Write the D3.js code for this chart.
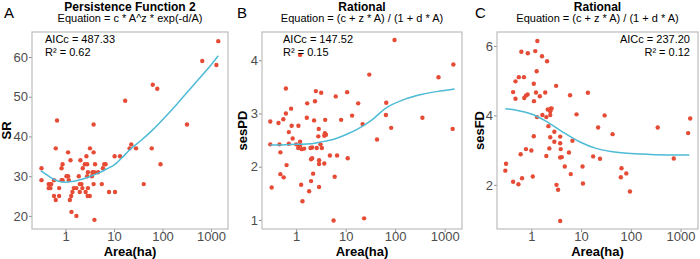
<!DOCTYPE html>
<html>
<head>
<meta charset="utf-8">
<script src="https://cdn.jsdelivr.net/npm/d3@7"></script>
<style>
  body { margin: 0; background: #fff; }
  text { font-family: "Liberation Sans", Arial, sans-serif; }
</style>
</head>
<body>
<div id="chart"></div>
<script>
const width = 700;
const height = 259;

// Panel A: species richness
const areaA = [0.32,0.32,0.45,0.48,0.51,0.45,0.49,0.58,0.63,0.74,0.74,0.63,0.67,0.83,0.87,0.83,0.87,
  1.05,1.13,1.13,1.17,1.27,1.23,1.31,1.39,1.48,1.68,1.33,1.68,1.88,1.97,2.13,1.97,2.03,2.23,2.27,2.5,
  2.6,2.7,2.8,2.8,2.9,2.9,2.86,3.16,3.2,3.5,3.6,3.8,3.8,3.8,3.9,3.95,4.07,4.7,5.6,5.9,6.3,6.7,7.9,
  10.5,10.3,13.3,17,21,22.7,28.5,41,60,63,78,91,320,660,1290,1410,0.58];
const srA = [32,29,28,28,28,27,27,25,24,25,27,37,44,29,29,32,33,
  30,30,36,29,34,24,25,26,27,27,21,20,30,28,28,26,34,27,32,33,
  26,35,33,30,31,27,25,25,37,30,31,36,43,28,31,19,33,31,28,32,33,33,26,
  26,35,35,49,37,38,37,28,37,53,52,33,43,59,58,64,29];
const fitAreaA = [0.31,0.45,0.6,0.8,1,1.5,2,3,5,7,10,15,21,37,62,100,200,500,1000,1410];
const fitSrA = [31.4,30.0,29.1,28.6,28.5,28.7,29.1,29.8,30.9,31.8,32.8,34.8,36.6,39.1,41.6,44.2,48.2,53.8,58.0,60.3];

// Panel B: sesPD
const areaB = [1.2,97,30,0.62,2.5,3.2,10.7,6.3,1.67,2.4,17.9,0.79,0.62,0.55,0.30,0.44,1.64,2.3,3.86,8.1,
  13.5,22,0.81,1.11,0.71,2.86,2.8,3.8,4.0,3.7,0.85,0.71,0.30,0.46,1.0,1.2,1.2,1.1,1.3,1.45,1.95,2.1,
  2.6,3.1,3.3,0.48,4.8,6.7,11,2.0,2.1,2.9,2.9,3.7,0.64,0.48,0.56,2.2,6.0,1.26,2.0,2.9,0.32,1.83,1.34,
  5.7,23.6,355,750,1500,1450,65,66,83,43];
const pdB = [4.10,4.38,3.73,3.47,3.42,3.39,3.40,3.32,3.19,3.23,3.19,3.09,3.00,2.89,2.85,2.82,2.92,2.87,2.88,2.88,
  2.96,2.80,2.77,2.77,2.65,2.71,2.57,2.63,2.60,2.58,2.53,2.43,2.42,2.42,2.42,2.47,2.40,2.35,2.33,2.34,2.35,2.36,
  2.35,2.42,2.35,2.27,2.21,2.21,2.16,2.14,2.16,2.12,2.05,2.06,2.03,1.86,1.80,1.87,1.81,1.66,1.73,1.62,1.61,1.54,1.35,
  0.99,1.03,2.92,3.68,3.92,2.71,2.97,3.20,2.73,2.51];
const fitAreaB = [0.3,0.5,1,2,3,5,10,17,32,65,150,355,800,1590];
const fitPdB = [2.41,2.41,2.42,2.43,2.46,2.50,2.60,2.70,2.86,3.10,3.26,3.36,3.42,3.46];

// Panel C: sesFD
const areaC = [1.32,0.63,0.85,1.2,1.64,2.07,1.28,0.71,0.56,0.48,1.12,3.15,0.43,0.84,0.78,0.72,1.24,1.9,1.48,
  1.13,0.48,6.0,13.7,2.14,2.45,2.55,2.4,2.4,1.67,2.0,1.3,8.1,29.7,2.2,22,2.9,1.12,2.4,3.8,6.7,2.9,3.8,
  0.78,1.0,2.3,3.9,0.61,5.7,2.0,3.8,4.1,17.5,24,0.31,0.30,4.7,10.7,6.2,0.65,1.07,0.43,0.55,10.9,3.2,
  3.45,3.8,347,1560,43,1420,730,65,81,63,96];
const fdC = [6.14,5.83,5.79,5.85,5.70,5.56,5.27,5.10,5.10,4.98,4.91,4.85,4.67,4.60,4.57,4.50,4.66,4.66,4.55,
  4.41,4.48,4.58,4.65,4.17,4.19,4.20,4.12,4.01,4.01,3.95,3.95,4.03,4.00,3.69,3.65,3.53,3.40,3.37,3.39,3.27,3.24,3.20,
  3.03,2.99,3.05,3.03,2.88,2.93,2.83,2.79,2.80,2.82,2.75,2.61,2.41,2.53,2.53,2.31,2.19,2.24,2.09,2.02,2.04,2.00,
  1.86,0.96,3.65,3.91,3.46,3.49,2.76,2.48,2.33,2.22,1.81];
const fitAreaC = [0.3,0.5,1,2,4,10,20,40,100,300,1000,1500];
const fitFdC = [4.19,4.15,4.04,3.83,3.55,3.22,3.05,2.96,2.90,2.87,2.86,2.86];

const xTicks = [1, 10, 100, 1000];

const panels = [
  { letter: "A", title: "Persistence Function 2", eq: "Equation = c * A^z * exp(-d/A)",
    aic: "AICc = 487.33", r2: "R\u00b2 = 0.62", ylab: "SR",
    xs: areaA, ys: srA, fx: fitAreaA, fy: fitSrA,
    x0: 32, x1: 228, yDomain: [16.7, 66.3], yTicks: [20, 30, 40, 50, 60],
    letterX: 4, ylabX: 10.5, statX: 45, statAnchor: "start" },
  { letter: "B", title: "Rational", eq: "Equation = (c + z * A) / (1 + d * A)",
    aic: "AICc = 147.52", r2: "R\u00b2 = 0.15", ylab: "sesPD",
    xs: areaB, ys: pdB, fx: fitAreaB, fy: fitPdB,
    x0: 262, x1: 462, yDomain: [0.83, 4.53], yTicks: [1, 2, 3, 4],
    letterX: 237, ylabX: 247, statX: 283, statAnchor: "start" },
  { letter: "C", title: "Rational", eq: "Equation = (c + z * A) / (1 + d * A)",
    aic: "AICc = 237.20", r2: "R\u00b2 = 0.12", ylab: "sesFD",
    xs: areaC, ys: fdC, fx: fitAreaC, fy: fitFdC,
    x0: 497, x1: 698, yDomain: [0.73, 6.4], yTicks: [2, 4, 6],
    letterX: 475, ylabX: 484, statX: 690, statAnchor: "end" }
];

const plotTop = 32, plotBottom = 229;

const svg = d3.select("#chart").append("svg")
  .attr("width", width)
  .attr("height", height);

panels.forEach(function(p) {
  const x = d3.scaleLog().domain([0.204, 2240]).range([p.x0, p.x1]);
  const y = d3.scaleLinear().domain(p.yDomain).range([plotBottom, plotTop]);
  const g = svg.append("g");
  const cx = (p.x0 + p.x1) / 2;

  // axes
  const xAxis = g.append("g")
    .attr("transform", "translate(0," + plotBottom + ")")
    .call(d3.axisBottom(x).tickValues(xTicks).tickFormat(d3.format("d")).tickSize(3).tickPadding(0));
  const yAxis = g.append("g")
    .attr("transform", "translate(" + p.x0 + ",0)")
    .call(d3.axisLeft(y).tickValues(p.yTicks).tickFormat(d3.format("d")).tickSize(3).tickPadding(1));
  [xAxis, yAxis].forEach(function(a) {
    a.select(".domain").remove();
    a.selectAll(".tick line").attr("stroke", "#8c8c8c");
    a.selectAll(".tick text").attr("fill", "#4d4d4d")
      .style("font-size", "13px")
      .style("font-family", "Liberation Sans, Arial, sans-serif");
  });

  // panel border
  g.append("rect")
    .attr("x", p.x0).attr("y", plotTop)
    .attr("width", p.x1 - p.x0).attr("height", plotBottom - plotTop)
    .attr("fill", "none").attr("stroke", "#bdbdbd").attr("stroke-width", 1.2);

  // points
  g.selectAll("circle")
    .data(p.xs.map(function(v, i) { return [v, p.ys[i]]; }))
    .enter()
    .append("circle")
    .attr("cx", function(d) { return x(d[0]); })
    .attr("cy", function(d) { return y(d[1]); })
    .attr("r", 2.2)
    .attr("fill", "#E64B35");

  // fitted curve
  const line = d3.line()
    .x(function(d) { return x(d[0]); })
    .y(function(d) { return y(d[1]); })
    .curve(d3.curveMonotoneX);
  g.append("path")
    .datum(p.fx.map(function(v, i) { return [v, p.fy[i]]; }))
    .attr("d", line)
    .attr("fill", "none")
    .attr("stroke", "#4DBBD5")
    .attr("stroke-width", 1.5);

  // titles
  g.append("text").attr("x", p.letterX).attr("y", 17.5)
    .style("font-size", "15px").text(p.letter);
  g.append("text").attr("x", cx).attr("y", 10.5)
    .attr("text-anchor", "middle")
    .style("font-size", "12px").style("font-weight", "bold").text(p.title);
  g.append("text").attr("x", cx).attr("y", 22)
    .attr("text-anchor", "middle")
    .style("font-size", "11px").text(p.eq);

  // fit stats
  g.append("text").attr("x", p.statX).attr("y", 43)
    .attr("text-anchor", p.statAnchor)
    .style("font-size", "11px").text(p.aic);
  g.append("text").attr("x", p.statX).attr("y", 55.5)
    .attr("text-anchor", p.statAnchor)
    .style("font-size", "11px").text(p.r2);

  // axis titles
  g.append("text").attr("x", cx).attr("y", 256)
    .attr("text-anchor", "middle")
    .style("font-size", "13px").style("font-weight", "bold").text("Area(ha)");
  g.append("text")
    .attr("transform", "translate(" + p.ylabX + "," + ((plotTop + plotBottom) / 2) + ") rotate(-90)")
    .attr("text-anchor", "middle")
    .style("font-size", "13px").style("font-weight", "bold").text(p.ylab);
});
</script>
</body>
</html>
